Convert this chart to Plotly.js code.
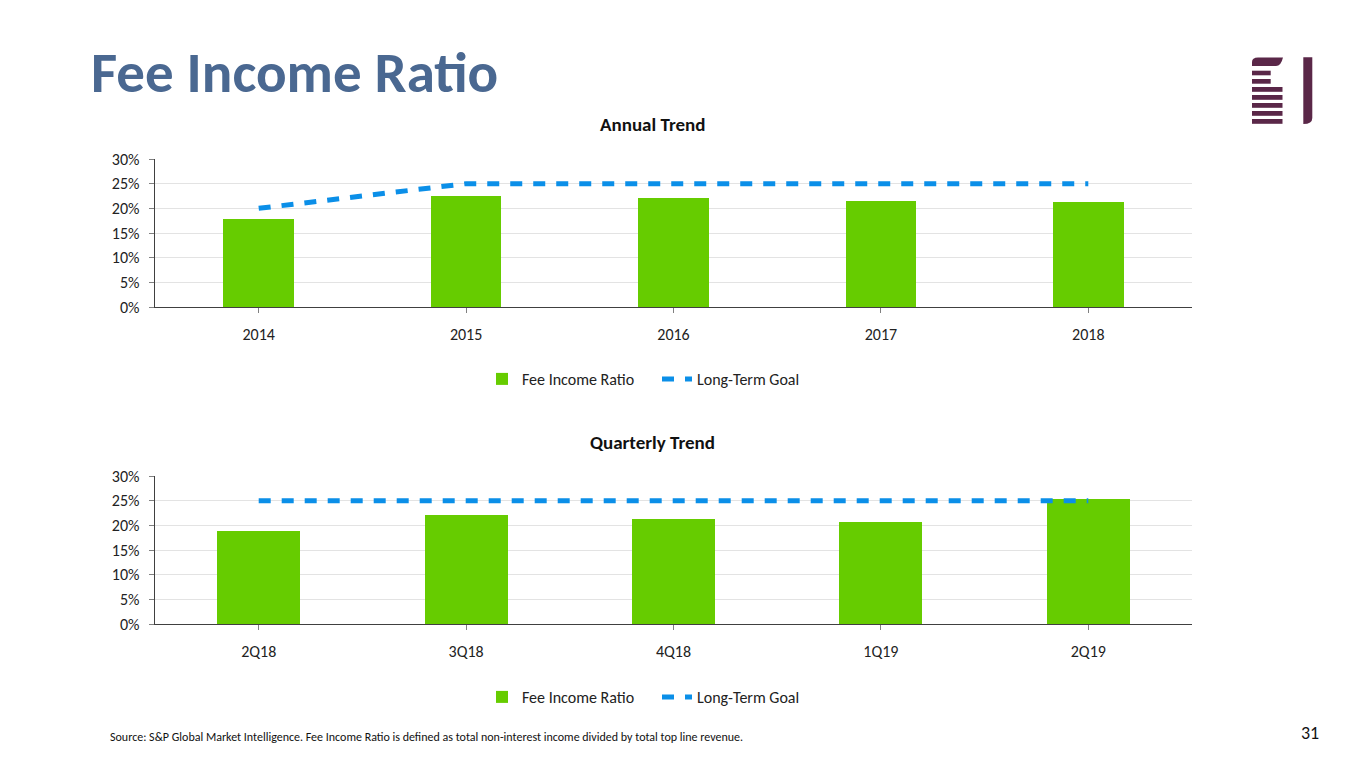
<!DOCTYPE html>
<html>
<head>
<meta charset="utf-8">
<script src="https://cdn.plot.ly/plotly-3.0.1.min.js"></script>
<style>
html,body{margin:0;padding:0;background:#fff;}
#chart{width:1365px;height:768px;}
</style>
</head>
<body>
<div id="chart"></div>
<script>
// ---- data ----
const annualCategories = ["2014", "2015", "2016", "2017", "2018"];
const annualFeeIncome = [0.178, 0.225, 0.221, 0.215, 0.212];
const annualGoal = [0.20, 0.25, 0.25, 0.25, 0.25];

const quarterCategories = ["2Q18", "3Q18", "4Q18", "1Q19", "2Q19"];
const quarterFeeIncome = [0.189, 0.220, 0.212, 0.206, 0.254];
const quarterGoal = [0.25, 0.25, 0.25, 0.25, 0.25];

const yTickValues = [0, 0.05, 0.10, 0.15, 0.20, 0.25, 0.30];
const yTickLabels = ["0%", "5%", "10%", "15%", "20%", "25%", "30%"];

// ---- styles ----
const FONT = "Carlito, Calibri, Lato, 'Open Sans', sans-serif";
const GREEN = "#66cc00";
const BLUE = "#0b8fe8";
const MAROON = "#5a2748";
const W = 1365, H = 768;

function px(x) { return x / W; }
function py(y) { return 1 - y / H; }

const traces = [
  {type: "bar", x: annualCategories, y: annualFeeIncome, name: "Fee Income Ratio",
   marker: {color: GREEN}, width: 0.34, xaxis: "x", yaxis: "y", legend: "legend", hoverinfo: "skip"},
  {type: "scatter", mode: "lines", x: annualCategories, y: annualGoal, name: "Long-Term Goal",
   line: {color: BLUE, width: 5, dash: "12px,11px"}, xaxis: "x", yaxis: "y", legend: "legend", hoverinfo: "skip"},
  {type: "bar", x: quarterCategories, y: quarterFeeIncome, name: "Fee Income Ratio",
   marker: {color: GREEN}, width: 0.40, xaxis: "x2", yaxis: "y2", legend: "legend2", hoverinfo: "skip"},
  {type: "scatter", mode: "lines", x: quarterCategories, y: quarterGoal, name: "Long-Term Goal",
   line: {color: BLUE, width: 5, dash: "12px,11px"}, xaxis: "x2", yaxis: "y2", legend: "legend2", hoverinfo: "skip"}
];

function xAxis(anchor) {
  return {
    domain: [px(155), px(1192)], anchor: anchor, type: "category",
    showline: true, linecolor: "#404040", linewidth: 1.3,
    ticks: "outside", ticklen: 5, tickcolor: "#808080",
    tickfont: {family: FONT, size: 16, color: "#222"},
    showgrid: false, zeroline: false, fixedrange: true, ticklabelstandoff: 7
  };
}
function yAxis(anchor, d0, d1) {
  return {
    domain: [d0, d1], anchor: anchor, range: [0, 0.30],
    tickvals: yTickValues, ticktext: yTickLabels,
    showline: true, linecolor: "#404040", linewidth: 1.3,
    ticks: "outside", ticklen: 5, tickcolor: "#808080",
    showgrid: true, gridcolor: "#e3e3e3", gridwidth: 1,
    tickfont: {family: FONT, size: 16, color: "#222"},
    zeroline: false, fixedrange: true, ticklabelstandoff: 6
  };
}

const legendStyle = (y) => ({
  orientation: "h", x: px(657), xanchor: "center", y: y, yanchor: "middle",
  font: {family: FONT, size: 16, color: "#222"}, bgcolor: "rgba(0,0,0,0)",
  itemwidth: 30, entrywidth: 130, tracegroupgap: 0, traceorder: "normal"
});

const logoShapes = [];
const addRect = (x0, y0, x1, y1) => logoShapes.push({
  type: "rect", xref: "paper", yref: "paper",
  x0: px(x0), x1: px(x1), y0: py(y1), y1: py(y0),
  fillcolor: MAROON, line: {width: 0}, layer: "above"
});
logoShapes.push({
  type: "path", xref: "paper", yref: "paper",
  path: `M ${px(1252)} ${py(66)} L ${px(1252)} ${py(62)} Q ${px(1252)} ${py(57.5)} ${px(1258)} ${py(57.5)} L ${px(1283)} ${py(57.5)} Q ${px(1281)} ${py(66)} ${px(1276)} ${py(66)} Z`,
  fillcolor: MAROON, line: {width: 0}
});
addRect(1252, 70.7, 1270.7, 75.3);
addRect(1252, 79, 1270.7, 83.7);
[87, 95, 103, 111, 119].forEach(y => addRect(1252, y, 1282.5, y + 4.8));
logoShapes.push({
  type: "path", xref: "paper", yref: "paper",
  path: `M ${px(1303.3)} ${py(57.3)} L ${px(1312.3)} ${py(57.3)} L ${px(1312.3)} ${py(118)} Q ${px(1312.3)} ${py(124)} ${px(1303.3)} ${py(124)} Z`,
  fillcolor: MAROON, line: {width: 0}
});

const annotations = [
  {text: "<b>Fee Income Ratio</b>", xref: "paper", yref: "paper", x: px(89), y: py(72),
   xanchor: "left", yanchor: "middle", showarrow: false,
   font: {family: FONT, size: 57, color: "#4a6891"}},
  {text: "<b>Annual Trend</b>", xref: "paper", yref: "paper", x: px(652), y: py(125),
   xanchor: "center", yanchor: "middle", showarrow: false,
   font: {family: FONT, size: 19, color: "#111"}},
  {text: "<b>Quarterly Trend</b>", xref: "paper", yref: "paper", x: px(652), y: py(442),
   xanchor: "center", yanchor: "middle", showarrow: false,
   font: {family: FONT, size: 19, color: "#111"}},
  {text: "Source: S&P Global Market Intelligence. Fee Income Ratio is defined as total non-interest income divided by total top line revenue.",
   xref: "paper", yref: "paper", x: px(108), y: py(737), xanchor: "left", yanchor: "middle", showarrow: false,
   font: {family: FONT, size: 12, color: "#111"}},
  {text: "31", xref: "paper", yref: "paper", x: px(1321), y: py(733), xanchor: "right", yanchor: "middle", showarrow: false,
   font: {family: FONT, size: 18, color: "#111"}}
];

const layout = {
  width: W, height: H,
  margin: {l: 0, r: 0, t: 0, b: 0},
  paper_bgcolor: "#ffffff", plot_bgcolor: "#ffffff",
  showlegend: true,
  bargap: 0,
  xaxis: xAxis("y"),
  yaxis: yAxis("x", py(307), py(159)),
  xaxis2: xAxis("y2"),
  yaxis2: yAxis("x2", py(624), py(476)),
  legend: legendStyle(py(379)),
  legend2: legendStyle(py(697)),
  shapes: logoShapes,
  annotations: annotations
};

Plotly.newPlot("chart", traces, layout, {displayModeBar: false, staticPlot: true});
</script>
</body>
</html>
